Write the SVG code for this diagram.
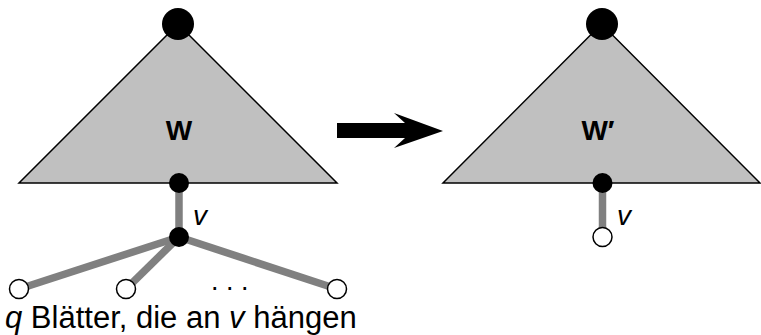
<svg xmlns="http://www.w3.org/2000/svg" width="761" height="335" viewBox="0 0 761 335">
<style>
.tri{fill:#c0c0c0;stroke:#000;stroke-width:1.5;stroke-linejoin:miter}
.edge{stroke:#808080;stroke-width:7.5;fill:none}
.inner{fill:#000}
.leaf{fill:#fff;stroke:#000;stroke-width:1.5}
.lbl{font-family:"Liberation Sans",Arial,sans-serif;fill:#000}
.b{font-weight:bold;font-size:28px;text-anchor:middle}
.i{font-style:italic;font-size:28px}
</style>
<rect width="761" height="335" fill="#fff"/>
<g id="tree-W">
<polygon class="tri" points="178,24 19,183 337,183"/>
<text class="lbl b" x="179" y="140">W</text>
</g>
<g id="tree-W-prime">
<polygon class="tri" points="601.5,24 443,183 760,183"/>
<text class="lbl b" x="598" y="140">W′</text>
</g>
<g id="connectors">
<line class="edge" x1="179" y1="183" x2="179" y2="237"/>
<line class="edge" x1="179" y1="237" x2="19" y2="289"/>
<line class="edge" x1="179" y1="237" x2="126" y2="289"/>
<line class="edge" x1="179" y1="237" x2="337" y2="289"/>
<line class="edge" x1="602.5" y1="183" x2="602.5" y2="237"/>
</g>
<g id="root-left"><circle class="inner" cx="178" cy="24" r="16"/></g>
<g id="root-right"><circle class="inner" cx="602" cy="24" r="16"/></g>
<g id="parent-left"><circle class="inner" cx="179" cy="183" r="10"/></g>
<g id="v-left"><circle class="inner" cx="179" cy="237" r="10"/>
<text class="lbl i" x="193" y="225">v</text></g>
<g id="leaf1"><circle class="leaf" cx="19" cy="289" r="9.5"/></g>
<g id="leaf2"><circle class="leaf" cx="126" cy="289" r="9.5"/></g>
<g id="leafq"><circle class="leaf" cx="337" cy="289" r="9.5"/></g>
<text class="lbl" x="211" y="290" font-size="27">. . .</text>
<g id="parent-right"><circle class="inner" cx="602.5" cy="183" r="10"/></g>
<g id="v-right"><circle class="leaf" cx="602.5" cy="237" r="9.5"/>
<text class="lbl i" x="617" y="225">v</text></g>
<g id="arrow"><polygon fill="#000" points="337,123 405,123 394,113 443,131 394,148 405,138 337,138"/></g>
<text class="lbl" x="5" y="328" font-size="31"><tspan font-style="italic">q</tspan> Blätter, die an <tspan font-style="italic">v</tspan> hängen</text>
</svg>
